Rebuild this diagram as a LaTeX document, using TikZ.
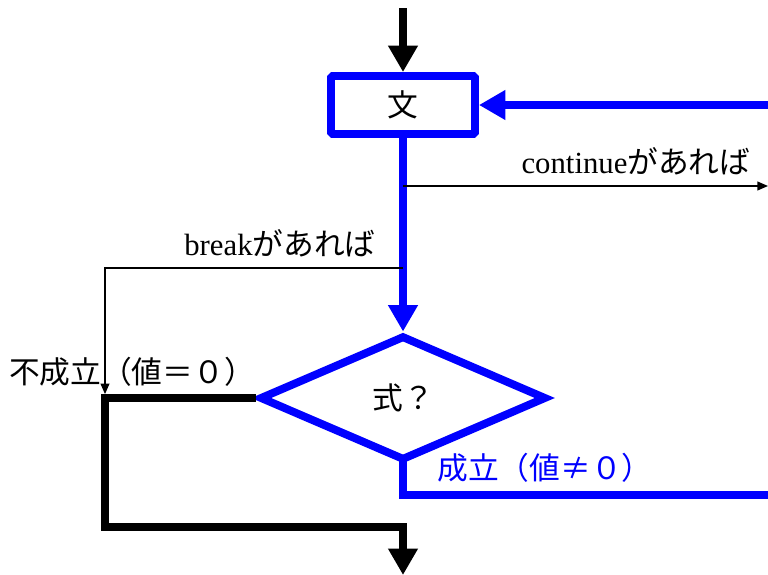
\documentclass[tikz,border=0pt]{standalone}
\usepackage{fontspec}
\setmainfont{Liberation Serif}
\newfontfamily\jp{Noto Sans CJK JP}
\usepackage{tikz}
\usetikzlibrary{arrows.meta,shapes.geometric,positioning}
\definecolor{flowblue}{RGB}{0,0,255}

\tikzset{
  fat/.style={line width=4.5pt},
  thinline/.style={line width=0.8pt},
  bigtip/.style={-{Triangle[length=15pt,width=16pt]}},
  smalltip/.style={-{Triangle[length=6pt,width=5pt]}},
  lbl/.style={font=\fontsize{17.5}{21}\selectfont, inner sep=0pt},
}

\begin{document}
\begin{tikzpicture}[x=0.02cm,y=-0.02cm]
\useasboundingbox (0,0) rectangle (768,575);

\node[draw=flowblue, fat, rounded corners=1pt, minimum width=2.88cm, minimum height=1.16cm, lbl] (stmt) at (403,105) {\jp 文};
\node[diamond, draw=flowblue, fat, minimum width=5.74cm, minimum height=2.5cm, lbl] (cond) at (403,398) {\jp 式？};

\coordinate (in) at (403,8);
\coordinate (out) at (403,575);
\coordinate (back) at (768,105);
\coordinate (contfork) at (403,186);
\coordinate (contend) at (768,186);
\coordinate (brkfork) at (403,268);
\coordinate (brkcorner) at (105,268);
\coordinate (join) at (cond.west -| brkcorner);
\coordinate (brktip) at ([yshift=2.2pt]join);
\coordinate (low) at (105,527);
\coordinate (lowend) at (403,527);
\coordinate (yesturn) at (403,495);
\coordinate (yesend) at (768,495);

% main flow
\draw[fat, bigtip] (in) -- (stmt.north);
\draw[fat, flowblue, bigtip] (back) -- (stmt.east);
\draw[fat, flowblue, bigtip] (stmt.south) -- (cond.north);
\draw[fat, flowblue, shorten <=-4pt] (cond.south) -- (yesturn) -- (yesend);
\draw[fat, bigtip] (cond.west) -- (join) -- (low) -- (lowend) -- (out);

% continue / break
\draw[thinline, smalltip] (contfork) -- (contend);
\draw[thinline, smalltip] (brkfork) -- (brkcorner) -- (brktip);

\node[lbl] (contlbl) at (636,161) {continue{\jp があれば}};
\node[lbl] (brklbl) at (280,243) {break{\jp があれば}};
\node[lbl] (nolbl) at (132,372) {\jp 不成立（値＝０）};
\node[lbl, text=flowblue] (yeslbl) at (545,468) {\jp 成立（値≠０）};

\end{tikzpicture}
\end{document}
